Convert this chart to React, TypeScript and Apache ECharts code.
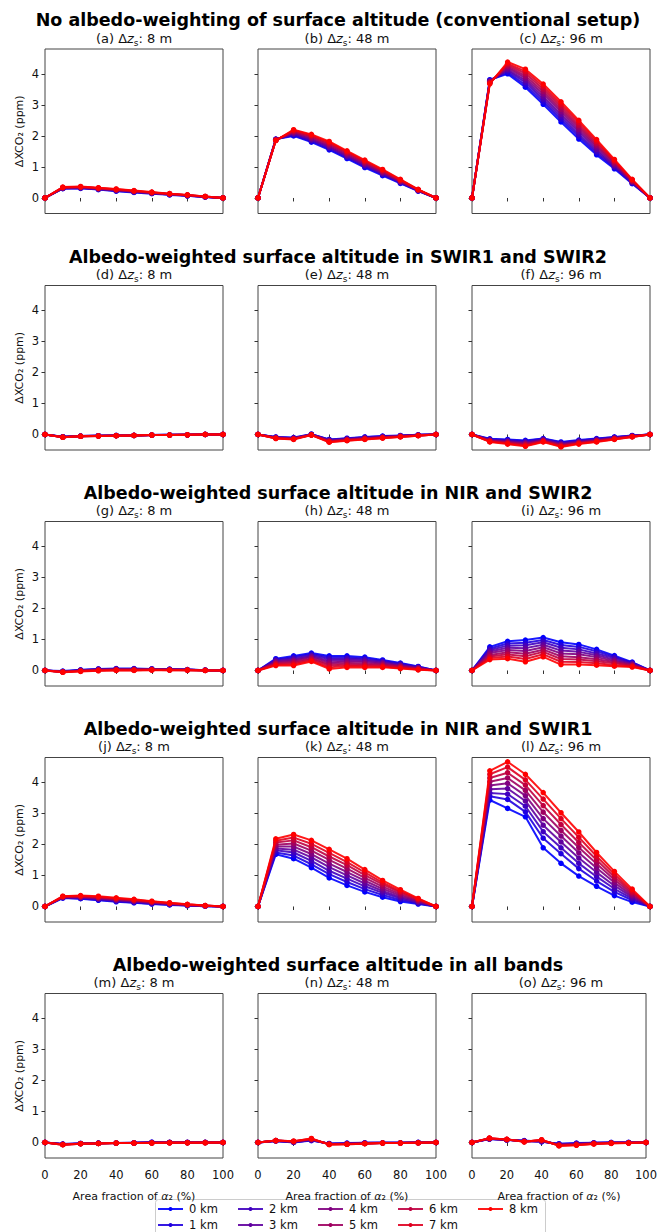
import React, { useEffect, useRef } from "react";
import * as echarts from "echarts";

const xs = [0, 10, 20, 30, 40, 50, 60, 70, 80, 90, 100];
const kmNames = ["0 km", "1 km", "2 km", "3 km", "4 km", "5 km", "6 km", "7 km", "8 km"];
const kmColors = ["#0000ff", "#2000df", "#4000bf", "#60009f", "#800080", "#9f0060", "#bf0040", "#df0020", "#ff0000"];

const rowTitles = [
  "No albedo-weighting of surface altitude (conventional setup)",
  "Albedo-weighted surface altitude in SWIR1 and SWIR2",
  "Albedo-weighted surface altitude in NIR and SWIR2",
  "Albedo-weighted surface altitude in NIR and SWIR1",
  "Albedo-weighted surface altitude in all bands",
];
const panelLetters = ["a", "b", "c", "d", "e", "f", "g", "h", "i", "j", "k", "l", "m", "n", "o"];
const dzValues = ["8 m", "48 m", "96 m"];
const yTicks = [0, 1, 2, 3, 4];

const panelA = [
  [0, .30, .31, .27, .22, .18, .14, .10, .07, .03, 0],
  [0, .31, .32, .28, .23, .19, .15, .11, .07, .03, 0],
  [0, .31, .32, .29, .24, .20, .15, .11, .08, .04, 0],
  [0, .32, .33, .29, .25, .20, .16, .12, .08, .04, 0],
  [0, .32, .34, .30, .25, .21, .16, .12, .08, .04, 0],
  [0, .33, .35, .31, .26, .22, .17, .13, .09, .04, 0],
  [0, .34, .35, .31, .27, .22, .18, .13, .09, .05, 0],
  [0, .34, .36, .32, .28, .23, .18, .14, .10, .05, 0],
  [0, .35, .37, .33, .29, .24, .19, .14, .10, .05, 0],
];
const panelB = [
  [0, 1.90, 2.00, 1.80, 1.55, 1.27, 0.98, 0.72, 0.47, 0.22, 0],
  [0, 1.89, 2.03, 1.83, 1.58, 1.30, 1.01, 0.75, 0.49, 0.23, 0],
  [0, 1.89, 2.05, 1.86, 1.62, 1.33, 1.04, 0.77, 0.50, 0.24, 0],
  [0, 1.88, 2.08, 1.89, 1.65, 1.36, 1.07, 0.80, 0.52, 0.24, 0],
  [0, 1.88, 2.10, 1.92, 1.68, 1.39, 1.10, 0.82, 0.53, 0.25, 0],
  [0, 1.87, 2.13, 1.96, 1.72, 1.43, 1.13, 0.85, 0.55, 0.26, 0],
  [0, 1.86, 2.15, 1.99, 1.75, 1.46, 1.16, 0.87, 0.57, 0.26, 0],
  [0, 1.86, 2.18, 2.02, 1.79, 1.49, 1.19, 0.90, 0.58, 0.27, 0],
  [0, 1.85, 2.20, 2.05, 1.82, 1.52, 1.22, 0.92, 0.60, 0.28, 0],
];
const panelC = [
  [0, 3.81, 4.00, 3.57, 3.02, 2.45, 1.90, 1.39, 0.94, 0.46, 0],
  [0, 3.79, 4.05, 3.64, 3.10, 2.53, 1.98, 1.45, 0.98, 0.48, 0],
  [0, 3.78, 4.10, 3.72, 3.18, 2.61, 2.05, 1.51, 1.01, 0.49, 0],
  [0, 3.76, 4.14, 3.79, 3.26, 2.69, 2.13, 1.57, 1.05, 0.51, 0],
  [0, 3.75, 4.19, 3.86, 3.35, 2.78, 2.20, 1.64, 1.09, 0.53, 0],
  [0, 3.73, 4.24, 3.93, 3.43, 2.86, 2.28, 1.70, 1.13, 0.55, 0],
  [0, 3.71, 4.29, 4.01, 3.51, 2.94, 2.35, 1.76, 1.17, 0.56, 0],
  [0, 3.70, 4.33, 4.08, 3.59, 3.02, 2.43, 1.82, 1.20, 0.58, 0],
  [0, 3.68, 4.38, 4.15, 3.67, 3.10, 2.50, 1.88, 1.24, 0.60, 0],
];
const panelD = [
  [0, -.07, -.05, -.04, -.03, -.03, -.02, -.01, -.01, 0, 0],
  [0, -.07, -.05, -.04, -.03, -.03, -.02, -.01, -.01, 0, 0],
  [0, -.08, -.05, -.04, -.03, -.03, -.02, -.01, -.01, 0, 0],
  [0, -.08, -.05, -.04, -.04, -.03, -.02, -.02, -.01, 0, 0],
  [0, -.08, -.06, -.04, -.04, -.03, -.02, -.02, -.01, 0, 0],
  [0, -.08, -.06, -.05, -.04, -.03, -.02, -.02, -.01, 0, 0],
  [0, -.09, -.06, -.05, -.04, -.03, -.02, -.02, -.01, 0, 0],
  [0, -.09, -.06, -.05, -.04, -.03, -.02, -.02, -.01, 0, 0],
  [0, -.09, -.06, -.05, -.04, -.03, -.02, -.02, -.01, 0, 0],
];
const panelE = [
  [0, -.08, -.10, .01, -.16, -.12, -.08, -.05, -.03, -.01, 0],
  [0, -.09, -.11, .01, -.17, -.13, -.09, -.06, -.04, -.01, 0],
  [0, -.09, -.12, 0, -.18, -.14, -.10, -.07, -.04, -.02, 0],
  [0, -.10, -.12, 0, -.19, -.15, -.11, -.08, -.05, -.02, 0],
  [0, -.10, -.13, -.01, -.20, -.16, -.12, -.09, -.05, -.02, 0],
  [0, -.11, -.14, -.01, -.22, -.17, -.13, -.09, -.06, -.03, 0],
  [0, -.12, -.14, -.01, -.23, -.18, -.14, -.10, -.07, -.03, 0],
  [0, -.12, -.15, -.02, -.24, -.19, -.15, -.11, -.07, -.04, 0],
  [0, -.13, -.16, -.02, -.25, -.20, -.16, -.12, -.08, -.04, 0],
];
const panelF = [
  [0, -.14, -.16, -.19, -.13, -.24, -.18, -.13, -.08, -.03, 0],
  [0, -.15, -.18, -.21, -.14, -.26, -.20, -.14, -.09, -.04, 0],
  [0, -.17, -.20, -.24, -.16, -.28, -.21, -.16, -.10, -.04, 0],
  [0, -.18, -.22, -.26, -.17, -.30, -.23, -.17, -.11, -.05, 0],
  [0, -.19, -.24, -.29, -.19, -.32, -.25, -.19, -.12, -.06, 0],
  [0, -.20, -.25, -.31, -.20, -.34, -.26, -.20, -.13, -.06, 0],
  [0, -.22, -.27, -.33, -.21, -.36, -.28, -.21, -.14, -.07, 0],
  [0, -.23, -.29, -.36, -.23, -.38, -.29, -.23, -.15, -.07, 0],
  [0, -.24, -.31, -.38, -.24, -.40, -.31, -.24, -.16, -.08, 0],
];
const panelG = [
  [0, -.02, .02, .05, .06, .06, .05, .04, .03, .01, 0],
  [0, -.03, .01, .04, .05, .05, .05, .04, .03, .01, 0],
  [0, -.03, .01, .04, .05, .05, .04, .03, .02, .01, 0],
  [0, -.04, 0, .03, .04, .04, .04, .03, .02, .01, 0],
  [0, -.04, 0, .02, .03, .03, .03, .03, .02, .01, 0],
  [0, -.04, -.01, .01, .02, .02, .03, .02, .02, 0, 0],
  [0, -.05, -.02, .01, .02, .02, .02, .02, .01, 0, 0],
  [0, -.05, -.02, 0, .01, .01, .02, .01, .01, 0, 0],
  [0, -.06, -.03, -.01, 0, 0, .01, .01, .01, 0, 0],
];
const panelH = [
  [0, .38, .47, .56, .47, .47, .43, .34, .24, .13, 0],
  [0, .35, .43, .53, .42, .42, .39, .31, .22, .12, 0],
  [0, .33, .39, .49, .37, .38, .35, .28, .20, .10, 0],
  [0, .30, .35, .46, .31, .33, .31, .25, .17, .09, 0],
  [0, .27, .32, .43, .26, .29, .27, .22, .15, .08, 0],
  [0, .24, .28, .39, .21, .24, .22, .19, .13, .06, 0],
  [0, .22, .24, .36, .16, .19, .18, .16, .11, .05, 0],
  [0, .19, .20, .32, .10, .15, .14, .13, .08, .03, 0],
  [0, .16, .16, .29, .05, .10, .10, .10, .06, .02, 0],
];
const panelI = [
  [0, .76, .94, .98, 1.06, .91, .84, .68, .48, .27, 0],
  [0, .71, .87, .89, .98, .82, .76, .62, .44, .25, 0],
  [0, .66, .80, .81, .91, .73, .68, .55, .40, .23, 0],
  [0, .61, .73, .72, .83, .64, .60, .49, .35, .21, 0],
  [0, .56, .66, .63, .75, .55, .52, .43, .31, .19, 0],
  [0, .50, .59, .54, .67, .46, .43, .36, .27, .17, 0],
  [0, .45, .52, .46, .60, .37, .35, .30, .23, .15, 0],
  [0, .40, .45, .37, .52, .28, .27, .23, .18, .13, 0],
  [0, .35, .38, .28, .44, .19, .19, .17, .14, .11, 0],
];
const panelJ = [
  [0, .27, .25, .20, .15, .12, .08, .05, .03, .01, 0],
  [0, .28, .26, .22, .17, .13, .09, .06, .03, .01, 0],
  [0, .29, .28, .23, .18, .15, .10, .07, .04, .02, 0],
  [0, .29, .29, .25, .20, .16, .11, .08, .04, .02, 0],
  [0, .30, .30, .27, .22, .18, .13, .09, .05, .02, 0],
  [0, .31, .31, .28, .23, .19, .14, .09, .05, .02, 0],
  [0, .32, .33, .30, .25, .20, .15, .10, .06, .03, 0],
  [0, .32, .34, .31, .26, .22, .16, .11, .06, .03, 0],
  [0, .33, .35, .33, .28, .23, .17, .12, .07, .03, 0],
];
const panelK = [
  [0, 1.68, 1.54, 1.25, .92, .68, .47, .30, .16, .08, 0],
  [0, 1.74, 1.64, 1.36, 1.04, .79, .56, .37, .21, .10, 0],
  [0, 1.81, 1.74, 1.47, 1.15, .90, .65, .44, .26, .12, 0],
  [0, 1.87, 1.83, 1.58, 1.27, 1.00, .74, .50, .30, .15, 0],
  [0, 1.93, 1.93, 1.69, 1.38, 1.11, .83, .57, .35, .17, 0],
  [0, 1.99, 2.03, 1.80, 1.50, 1.22, .92, .64, .40, .19, 0],
  [0, 2.06, 2.13, 1.91, 1.61, 1.33, 1.01, .71, .45, .22, 0],
  [0, 2.12, 2.22, 2.02, 1.73, 1.43, 1.10, .77, .49, .24, 0],
  [0, 2.18, 2.32, 2.13, 1.84, 1.54, 1.19, .84, .54, .26, 0],
];
const panelL = [
  [0, 3.43, 3.16, 2.89, 1.89, 1.39, 0.98, 0.65, 0.35, 0.14, 0],
  [0, 3.55, 3.45, 3.05, 2.20, 1.70, 1.22, 0.82, 0.47, 0.20, 0],
  [0, 3.66, 3.62, 3.23, 2.41, 1.89, 1.39, 0.96, 0.57, 0.25, 0],
  [0, 3.78, 3.80, 3.40, 2.62, 2.08, 1.56, 1.10, 0.67, 0.30, 0],
  [0, 3.90, 3.97, 3.57, 2.83, 2.27, 1.73, 1.24, 0.77, 0.35, 0],
  [0, 4.02, 4.14, 3.74, 3.04, 2.45, 1.90, 1.38, 0.86, 0.40, 0],
  [0, 4.14, 4.31, 3.91, 3.25, 2.64, 2.06, 1.50, 0.95, 0.45, 0],
  [0, 4.26, 4.49, 4.08, 3.46, 2.83, 2.23, 1.62, 1.04, 0.50, 0],
  [0, 4.37, 4.66, 4.26, 3.67, 3.02, 2.40, 1.74, 1.13, 0.56, 0],
];
const panelM = [
  [0, -.05, -.03, -.02, -.02, -.01, .01, 0, 0, 0, 0],
  [0, -.05, -.03, -.02, -.02, -.01, 0, 0, 0, 0, 0],
  [0, -.06, -.03, -.02, -.02, -.01, 0, 0, 0, 0, 0],
  [0, -.06, -.04, -.03, -.02, -.02, 0, 0, 0, 0, 0],
  [0, -.06, -.04, -.03, -.02, -.02, -.01, 0, 0, 0, 0],
  [0, -.06, -.04, -.03, -.02, -.02, -.01, 0, 0, 0, 0],
  [0, -.07, -.04, -.03, -.02, -.02, -.01, -.01, -.01, 0, 0],
  [0, -.07, -.04, -.03, -.02, -.02, -.02, -.01, -.01, -.01, 0],
  [0, -.07, -.04, -.03, -.02, -.02, -.02, -.01, -.01, -.01, 0],
];
const panelN = [
  [0, .05, 0, .06, -.03, -.02, -.01, -.01, -.01, 0, 0],
  [0, .05, .01, .07, -.04, -.03, -.01, -.01, -.01, 0, 0],
  [0, .05, .01, .08, -.04, -.03, -.02, -.01, -.01, 0, 0],
  [0, .05, .02, .09, -.05, -.04, -.02, -.01, -.01, 0, 0],
  [0, .06, .02, .10, -.05, -.04, -.03, -.02, -.02, -.01, 0],
  [0, .06, .03, .10, -.05, -.05, -.03, -.02, -.02, -.01, 0],
  [0, .06, .03, .11, -.06, -.05, -.03, -.02, -.02, -.01, 0],
  [0, .06, .04, .12, -.06, -.06, -.04, -.02, -.02, -.01, 0],
  [0, .06, .04, .13, -.07, -.06, -.04, -.02, -.02, -.01, 0],
];
const panelO = [
  [0, .11, .08, .06, .02, -.04, -.02, -.01, 0, 0, 0],
  [0, .11, .08, .05, .03, -.05, -.03, -.01, 0, 0, 0],
  [0, .12, .09, .05, .04, -.06, -.04, -.02, -.01, 0, 0],
  [0, .12, .09, .04, .05, -.07, -.05, -.02, -.01, -.01, 0],
  [0, .12, .09, .04, .05, -.07, -.05, -.03, -.01, -.01, 0],
  [0, .13, .09, .03, .06, -.08, -.06, -.03, -.02, -.01, 0],
  [0, .13, .10, .03, .07, -.09, -.07, -.04, -.02, -.01, 0],
  [0, .14, .10, .02, .08, -.10, -.08, -.04, -.02, -.02, 0],
  [0, .14, .10, .02, .09, -.11, -.09, -.05, -.03, -.02, 0],
];

const panels = [panelA, panelB, panelC, panelD, panelE, panelF, panelG, panelH, panelI, panelJ, panelK, panelL, panelM, panelN, panelO];

const FONT = "DejaVu Sans";
const colLeft = [45, 258, 472];
const gridW = 178;
const rowTop = [49, 285.5, 521.5, 757.5, 993.5];
const gridH = 164.5;

export default function App() {
  const ref = useRef<HTMLDivElement>(null);
  useEffect(() => {
    if (!ref.current) return;
    const chart = echarts.init(ref.current, null, { renderer: "svg" });
    const grids: any[] = [];
    const xAxes: any[] = [];
    const yAxes: any[] = [];
    const series: any[] = [];
    const graphics: any[] = [];

    rowTitles.forEach((t, r) => {
      graphics.push({
        type: "text",
        x: 338,
        y: rowTop[r] - 29,
        style: { text: t, font: `bold 17.5px '${FONT}'`, fill: "#000", textAlign: "center", textVerticalAlign: "middle" },
      });
    });

    for (let r = 0; r < 5; r++) {
      for (let c = 0; c < 3; c++) {
        const p = r * 3 + c;
        grids.push({
          left: colLeft[c],
          top: rowTop[r],
          width: gridW,
          height: gridH,
          show: true,
          borderColor: "#444",
          borderWidth: 1,
          backgroundColor: "transparent",
          containLabel: false,
        });
        const bottom = r === 4;
        xAxes.push({
          type: "value",
          gridIndex: p,
          min: 0,
          max: 100,
          interval: 20,
          splitLine: { show: false },
          axisLine: { show: false },
          axisTick: { show: true, length: 3.5, inside: false, lineStyle: { color: "#333", width: 1 } },
          axisLabel: { show: bottom, fontFamily: FONT, fontSize: 11.5, color: "#111", margin: 11 },
          name: bottom ? "Area fraction of {i|α}₂ (%)" : "",
          nameLocation: "middle",
          nameGap: 33,
          nameTextStyle: {
            fontFamily: FONT,
            fontSize: 11,
            color: "#111",
            rich: { i: { fontFamily: FONT, fontSize: 11, fontStyle: "italic", color: "#111" } },
          },
        });
        yAxes.push({
          type: "value",
          gridIndex: p,
          min: -0.5,
          max: 4.8,
          splitLine: { show: false },
          axisLine: { show: false },
          axisTick: { show: true, length: 3.5, inside: false, customValues: yTicks, lineStyle: { color: "#333", width: 1 } },
          axisLabel: { show: c === 0, customValues: yTicks, fontFamily: FONT, fontSize: 11.5, color: "#111", margin: 6 },
          name: c === 0 ? "ΔXCO₂ (ppm)" : "",
          nameLocation: "middle",
          nameRotate: 90,
          nameGap: 20,
          nameTextStyle: { fontFamily: FONT, fontSize: 11, color: "#111" },
        });
        graphics.push({
          type: "text",
          x: colLeft[c] + gridW / 2,
          y: rowTop[r] - 11,
          style: {
            text: `(${panelLetters[p]}) Δ{i|z}{s|s}: ${dzValues[c]}`,
            font: `13px '${FONT}'`,
            fill: "#111",
            textAlign: "center",
            textVerticalAlign: "middle",
            rich: {
              i: { fontFamily: FONT, fontSize: 13, fontStyle: "italic", fill: "#111" },
              s: { fontFamily: FONT, fontSize: 9, fill: "#111", padding: [9, 0, 0, 0] },
            },
          },
        });
        panels[p].forEach((vals, k) => {
          series.push({
            type: "line",
            name: kmNames[k],
            xAxisIndex: p,
            yAxisIndex: p,
            data: xs.map((x, j) => [x, vals[j]]),
            symbol: "circle",
            symbolSize: 5.5,
            showSymbol: true,
            color: kmColors[k],
            lineStyle: { width: 2, color: kmColors[k], opacity: 0.9 },
            itemStyle: { color: kmColors[k] },
            z: 2 + k * 0.01,
            clip: false,
          });
        });
      }
    }

    graphics.push({
      type: "rect",
      shape: { x: 155.5, y: 1199.5, width: 390, height: 45, r: 3 },
      style: { fill: "#fff", stroke: "#cccccc", lineWidth: 1 },
      z: 0,
    });

    const legends = [0, 1, 2, 3, 4].map((i) => ({
      type: "plain",
      orient: "vertical",
      left: 157 + 80 * i,
      top: 1203,
      height: 40,
      itemGap: 4,
      itemWidth: 25,
      itemHeight: 5,
      padding: 0,
      data: kmNames.slice(i * 2, i * 2 + 2),
      textStyle: { fontFamily: FONT, fontSize: 11.5, lineHeight: 12, color: "#111", padding: [0, 0, 0, 1] },
      selectedMode: false,
      z: 5,
    }));

    chart.setOption({
      animation: false,
      backgroundColor: "#fff",
      grid: grids,
      xAxis: xAxes,
      yAxis: yAxes,
      series,
      legend: legends,
      graphic: graphics,
    });
    return () => chart.dispose();
  }, []);
  return <div ref={ref} style={{ position: "fixed", left: 0, top: 0, width: 660, height: 1232 }} />;
}
